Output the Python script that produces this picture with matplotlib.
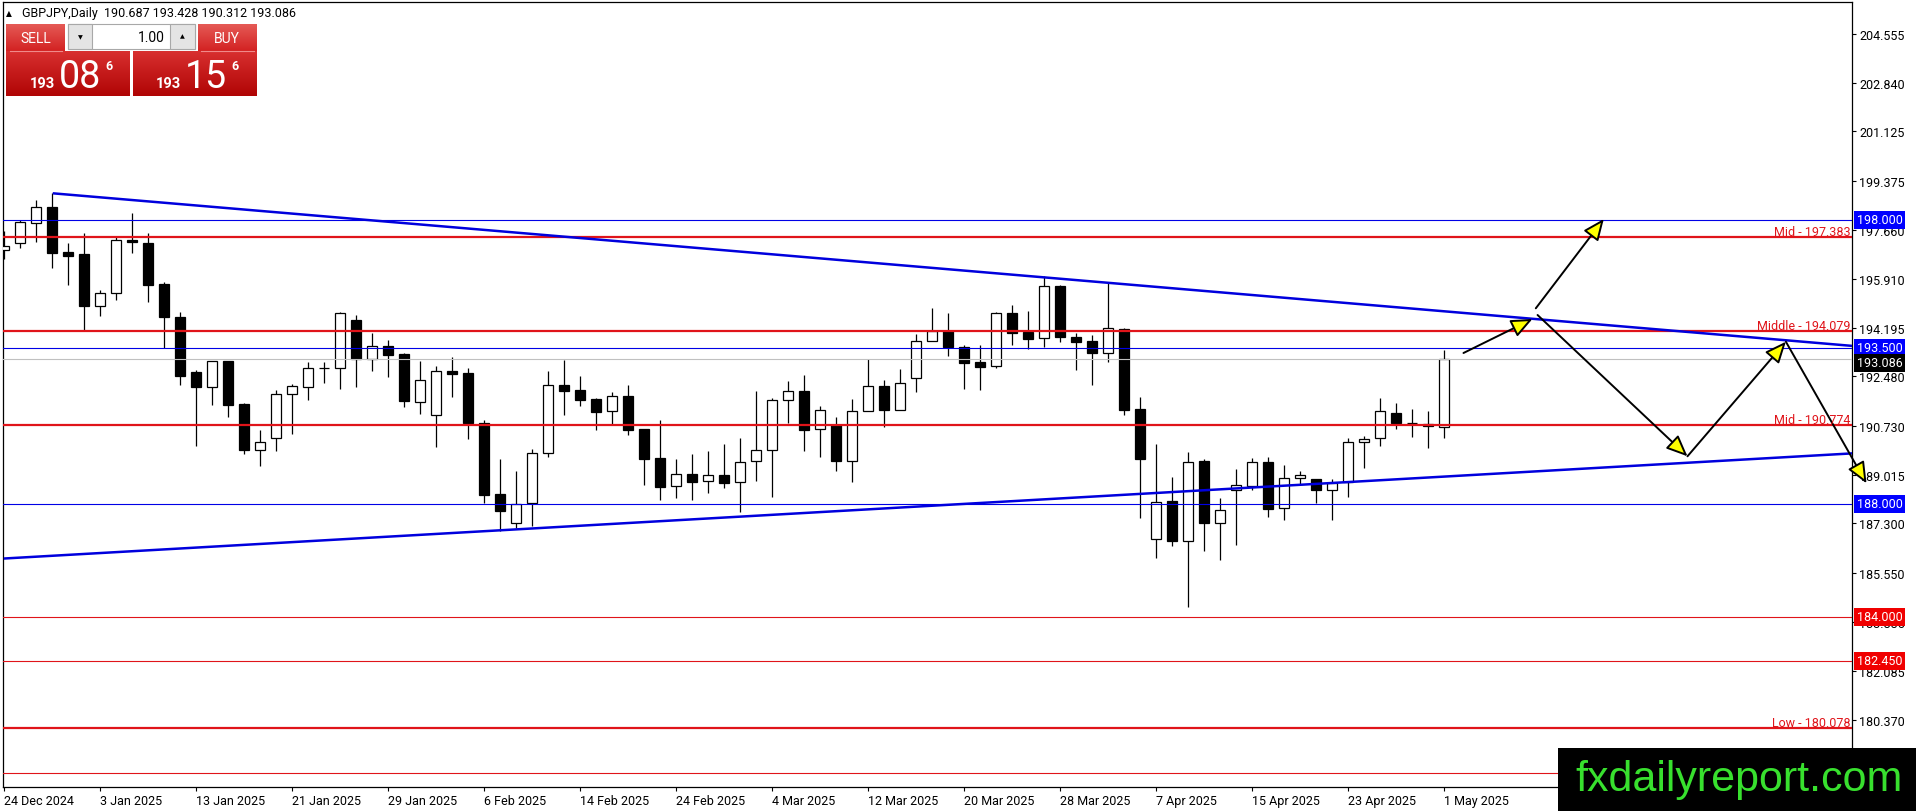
import matplotlib
matplotlib.use('Agg')
import matplotlib.pyplot as plt
from matplotlib.patches import Rectangle
from matplotlib.transforms import blended_transform_factory
import numpy as np

plt.rcParams['font.family'] = ['Roboto', 'DejaVu Sans']

symbol = 'GBPJPY,Daily'
last_ohlc = [190.687, 193.428, 190.312, 193.086]
bid_price = '193.086'
ask_price = '193.156'
lot_size = '1.00'

# daily bars, index 0 = 24 Dec 2024, index 90 = 1 May 2025
opens = [196.940, 197.173, 197.879, 198.443, 196.856, 196.786, 194.952, 195.410, 197.291, 197.185,
         195.728, 194.576, 192.625, 192.119, 193.013, 191.508, 189.898, 190.297, 191.849, 192.119,
         192.766, 192.766, 194.458, 193.095, 193.554, 193.272, 191.567, 191.132, 192.660, 192.602,
         190.827, 188.335, 187.301, 188.006, 189.769, 192.167, 191.990, 191.673, 191.250, 191.779,
         190.627, 189.604, 188.605, 189.029, 188.782, 189.005, 188.746, 189.487, 189.875, 191.638,
         191.955, 190.627, 190.768, 189.511, 191.250, 192.131, 191.309, 192.414, 193.718, 194.071,
         193.507, 192.990, 192.837, 194.706, 194.036, 193.824, 195.658, 193.859, 193.718, 193.295,
         194.153, 191.332, 186.736, 188.088, 186.689, 189.498, 187.324, 188.464, 188.629, 189.463,
         187.830, 188.887, 188.852, 188.464, 188.746, 190.157, 190.298, 191.179, 190.827, 190.803,
         190.687]
highs = [197.620, 197.996, 198.701, 198.936, 197.173, 197.538, 195.528, 197.385, 198.243, 197.538,
         195.798, 194.740, 192.719, 193.013, 193.013, 191.532, 190.591, 192.002, 192.201, 192.989,
         192.977, 194.740, 194.646, 194.012, 193.765, 193.295, 193.013, 192.837, 193.166, 192.766,
         190.944, 189.569, 189.134, 189.922, 192.660, 193.048, 192.484, 191.720, 191.932, 192.167,
         190.627, 190.944, 189.569, 189.745, 189.839, 190.098, 190.310, 191.967, 191.732, 192.320,
         192.531, 191.438, 191.038, 191.685, 193.095, 192.355, 192.743, 193.977, 194.894, 194.717,
         193.589, 193.601, 194.741, 195.000, 194.788, 196.010, 195.705, 194.000, 193.942, 195.798,
         194.176, 191.767, 190.110, 188.934, 189.804, 189.557, 188.194, 189.216, 189.604, 189.628,
         189.346, 189.134, 188.852, 188.864, 190.298, 190.380, 191.720, 191.544, 191.332, 191.250,
         193.428]
lows = [196.620, 196.997, 197.209, 196.315, 195.716, 194.129, 194.623, 195.187, 196.844, 195.117,
        193.471, 192.190, 190.039, 191.485, 191.062, 189.757, 189.310, 189.863, 190.450, 191.661,
        192.261, 192.037, 192.108, 192.684, 192.472, 191.414, 191.168, 190.004, 191.755, 190.286,
        188.018, 187.042, 187.136, 187.218, 189.628, 191.132, 191.450, 190.604, 190.804, 190.427,
        188.664, 188.135, 188.206, 188.135, 188.370, 188.547, 187.689, 188.805, 188.241, 190.839,
        189.863, 189.628, 189.158, 188.770, 191.250, 190.698, 191.309, 191.943, 193.718, 193.213,
        192.037, 192.014, 192.778, 193.601, 193.460, 193.507, 193.706, 192.719, 192.190, 192.978,
        191.132, 187.500, 186.090, 186.513, 184.362, 186.337, 186.020, 186.548, 188.488, 187.536,
        187.430, 188.699, 188.018, 187.430, 188.241, 189.263, 190.039, 190.639, 190.357, 189.957,
        190.312]
closes = [197.070, 197.914, 198.443, 196.844, 196.739, 194.952, 195.410, 197.291, 197.209, 195.716,
          194.588, 192.507, 192.119, 193.013, 191.485, 189.898, 190.156, 191.849, 192.131, 192.766,
          192.766, 194.705, 193.095, 193.541, 193.248, 191.603, 192.343, 192.660, 192.578, 190.827,
          188.312, 187.747, 187.982, 189.769, 192.167, 191.979, 191.661, 191.238, 191.779, 190.604,
          189.581, 188.594, 189.029, 188.770, 188.993, 188.735, 189.451, 189.875, 191.638, 191.955,
          190.604, 191.285, 189.511, 191.250, 192.131, 191.309, 192.237, 193.718, 194.071, 193.507,
          192.966, 192.825, 194.706, 194.024, 193.812, 195.658, 193.883, 193.706, 193.319, 194.176,
          191.309, 189.569, 188.041, 186.689, 189.463, 187.324, 187.759, 188.640, 189.451, 187.818,
          188.887, 188.993, 188.464, 188.734, 190.157, 190.263, 191.250, 190.850, 190.827, 190.744,
          193.086]

date_ticks = [0, 6, 12, 18, 24, 30, 36, 42, 48, 54, 60, 66, 72, 78, 84, 90]
date_labels = ['24 Dec 2024', '3 Jan 2025', '13 Jan 2025', '21 Jan 2025', '29 Jan 2025',
               '6 Feb 2025', '14 Feb 2025', '24 Feb 2025', '4 Mar 2025', '12 Mar 2025',
               '20 Mar 2025', '28 Mar 2025', '7 Apr 2025', '15 Apr 2025', '23 Apr 2025',
               '1 May 2025']

price_ticks = [204.555, 202.840, 201.125, 199.375, 197.660, 195.910, 194.195, 192.480,
               190.730, 189.015, 187.300, 185.550, 183.835, 182.085, 180.370]

red_levels = [197.383, 194.079, 190.774, 180.078]
red_names = ['Mid', 'Middle', 'Mid', 'Low']
red_thin_levels = [184.000, 182.450, 178.500]
red_boxed = [184.000, 182.450]
blue_levels = [198.000, 193.500, 188.000]
current_price = 193.086

upper_trend_x = [3.06, 115.6]
upper_trend_y = [198.938, 193.554]
lower_trend_x = [0.0, 115.6]
lower_trend_y = [186.06, 189.77]

# forecast path drawn as arrows: (start bar, start price, end bar, end price)
arrows = [
    (91.23, 193.307, 95.54, 194.506),
    (95.75, 194.883, 100.0, 198.032),
    (95.86, 194.647, 105.23, 189.665),
    (105.23, 189.665, 111.38, 193.705),
    (111.38, 193.705, 116.42, 188.712),
]

W, H = 1916, 812
fig = plt.figure(figsize=(W / 100, H / 100), dpi=100)
ax = fig.add_axes([3 / W, 24 / H, 1849 / W, 785.3 / H])

red = '#e0141a'
blue = '#0000e6'

# candles
for i in range(len(opens)):
    o, h, l, c = opens[i], highs[i], lows[i], closes[i]
    ax.vlines(i, l, h, color='black', lw=0.9, zorder=2)
    face = 'white' if c >= o else 'black'
    ax.add_patch(Rectangle((i - 0.31, min(o, c)), 0.62, abs(c - o),
                           fc=face, ec='black', lw=0.9, zorder=3))

# horizontal levels
for lvl in red_levels:
    ax.axhline(lvl, color=red, lw=1.6, zorder=4)
for lvl in red_thin_levels:
    ax.axhline(lvl, color=red, lw=0.8, zorder=4)
for lvl in blue_levels:
    ax.axhline(lvl, color=blue, lw=0.8, zorder=4)
ax.axhline(current_price, color='#c0c0c0', lw=0.8, zorder=4)

# trendlines
ax.plot(upper_trend_x, upper_trend_y, color='#0000dd', lw=1.8, zorder=5, solid_capstyle='butt')
ax.plot(lower_trend_x, lower_trend_y, color='#0000dd', lw=1.8, zorder=5, solid_capstyle='butt')

# arrows
for x0, y0, x1, y1 in arrows:
    ax.annotate('', xy=(x1, y1), xytext=(x0, y0), annotation_clip=False, zorder=6,
                arrowprops=dict(arrowstyle='-|>,head_length=0.65,head_width=0.28',
                                mutation_scale=20, fc='#ffff00', ec='black', lw=1.4,
                                shrinkA=0, shrinkB=0))

ax.set_xlim(-0.05, -0.05 + 1849 / 16)
ax.set_ylim(178.004, 205.694)

trans = blended_transform_factory(ax.transAxes, ax.transData)
for lvl, name in zip(red_levels, red_names):
    ax.text(0.9993, lvl + 0.08, f'{name} - {lvl:.3f}', transform=trans, color=red,
            fontsize=9, ha='right', va='baseline', zorder=7)

box_kw = dict(transform=trans, color='white', fontsize=9, ha='left', va='center',
              zorder=8, clip_on=False)
for lvl in blue_levels:
    ax.text(1.0025, lvl, f'{lvl:.3f}', bbox=dict(boxstyle='square,pad=0.2', fc='#0000ff', ec='none'), **box_kw)
for lvl in red_boxed:
    ax.text(1.0025, lvl, f'{lvl:.3f}', bbox=dict(boxstyle='square,pad=0.2', fc='#f00000', ec='none'), **box_kw)
ax.text(1.0025, current_price - 0.12, f'{current_price:.3f}',
        bbox=dict(boxstyle='square,pad=0.2', fc='black', ec='none'), **box_kw)

# axes styling
ax.yaxis.tick_right()
ax.set_yticks(price_ticks, [f'{v:.3f}' for v in price_ticks])
ax.set_xticks(date_ticks, date_labels)
plt.setp(ax.get_xticklabels(), ha='left')
ax.tick_params(axis='both', length=3, width=0.8, pad=2, labelsize=9, colors='black')
for s in ax.spines.values():
    s.set_linewidth(0.9)
    s.set_color('black')

# overlay in pixel coordinates
ov = fig.add_axes([0, 0, 1, 1], zorder=10)
ov.patch.set_alpha(0)
ov.axis('off')


def grad_rect(x, y, w, h, top, bot):
    t = np.array(matplotlib.colors.to_rgb(top))
    b = np.array(matplotlib.colors.to_rgb(bot))
    k = np.linspace(0, 1, 64)[:, None]
    img = (t * (1 - k) + b * k)[:, None, :]
    ov.imshow(img, extent=(x, x + w, y + h, y), aspect='auto', interpolation='bilinear', zorder=11)


# header
ov.text(6, 13.5, '\u25b2', fontsize=5.5, family='DejaVu Sans', va='center', ha='left', zorder=12)
ov.text(22, 13.5, symbol + '  ' + ' '.join(f'{v:.3f}' for v in last_ohlc),
        fontsize=9, va='center', ha='left', zorder=12)

# one-click trading panel
grad_rect(6, 25, 59, 27, '#e55a56', '#d32222')
grad_rect(198, 25, 59, 27, '#e55a56', '#d32222')
grad_rect(6, 52, 124, 45, '#d83030', '#b00404')
grad_rect(133, 52, 124, 45, '#d83030', '#b00404')
ov.plot([10, 62], [52, 52], color='#f08a8a', lw=0.8, zorder=12)
ov.plot([201, 254], [52, 52], color='#f08a8a', lw=0.8, zorder=12)
ov.add_patch(Rectangle((68, 25), 127, 25, fc='white', ec='#a8a8a8', lw=0.8, zorder=11))
ov.add_patch(Rectangle((68, 25), 24, 25, fc='#e4e4e4', ec='#a8a8a8', lw=0.8, zorder=12))
ov.add_patch(Rectangle((170, 25), 25, 25, fc='#e4e4e4', ec='#a8a8a8', lw=0.8, zorder=12))
ov.text(80, 38, '\u25bc', fontsize=4.5, family='DejaVu Sans', ha='center', va='center', zorder=13)
ov.text(182.5, 37, '\u25b2', fontsize=4.5, family='DejaVu Sans', ha='center', va='center', zorder=13)
ov.text(165, 38, lot_size, fontsize=10, ha='right', va='center', zorder=13)
ov.text(35.5, 39, 'SELL', fontsize=10, color='white', ha='center', va='center', zorder=13)
ov.text(227, 39, 'BUY', fontsize=10, color='white', ha='center', va='center', zorder=13)
for px, price in ((30, bid_price), (156, ask_price)):
    ov.text(px, 88, price[:3], fontsize=10.5, fontweight='bold', color='white',
            ha='left', va='baseline', zorder=13)
    ov.text(px + 29, 88, price[4:6], fontsize=27, color='white', ha='left', va='baseline', zorder=13)
    ov.text(px + 75, 70, price[6], fontsize=9, fontweight='bold', color='white',
            ha='left', va='baseline', zorder=13)

# watermark
ov.add_patch(Rectangle((1558, 749), W - 1558, H - 749, fc='black', ec='none', zorder=14))
ov.text(1575, 791, 'fxdailyreport.com', fontsize=31, family='Liberation Sans',
        color='#38e02e', ha='left', va='baseline', zorder=15)

ov.set_xlim(0, W)
ov.set_ylim(H, 0)

fig.savefig('out.png', dpi=100)
